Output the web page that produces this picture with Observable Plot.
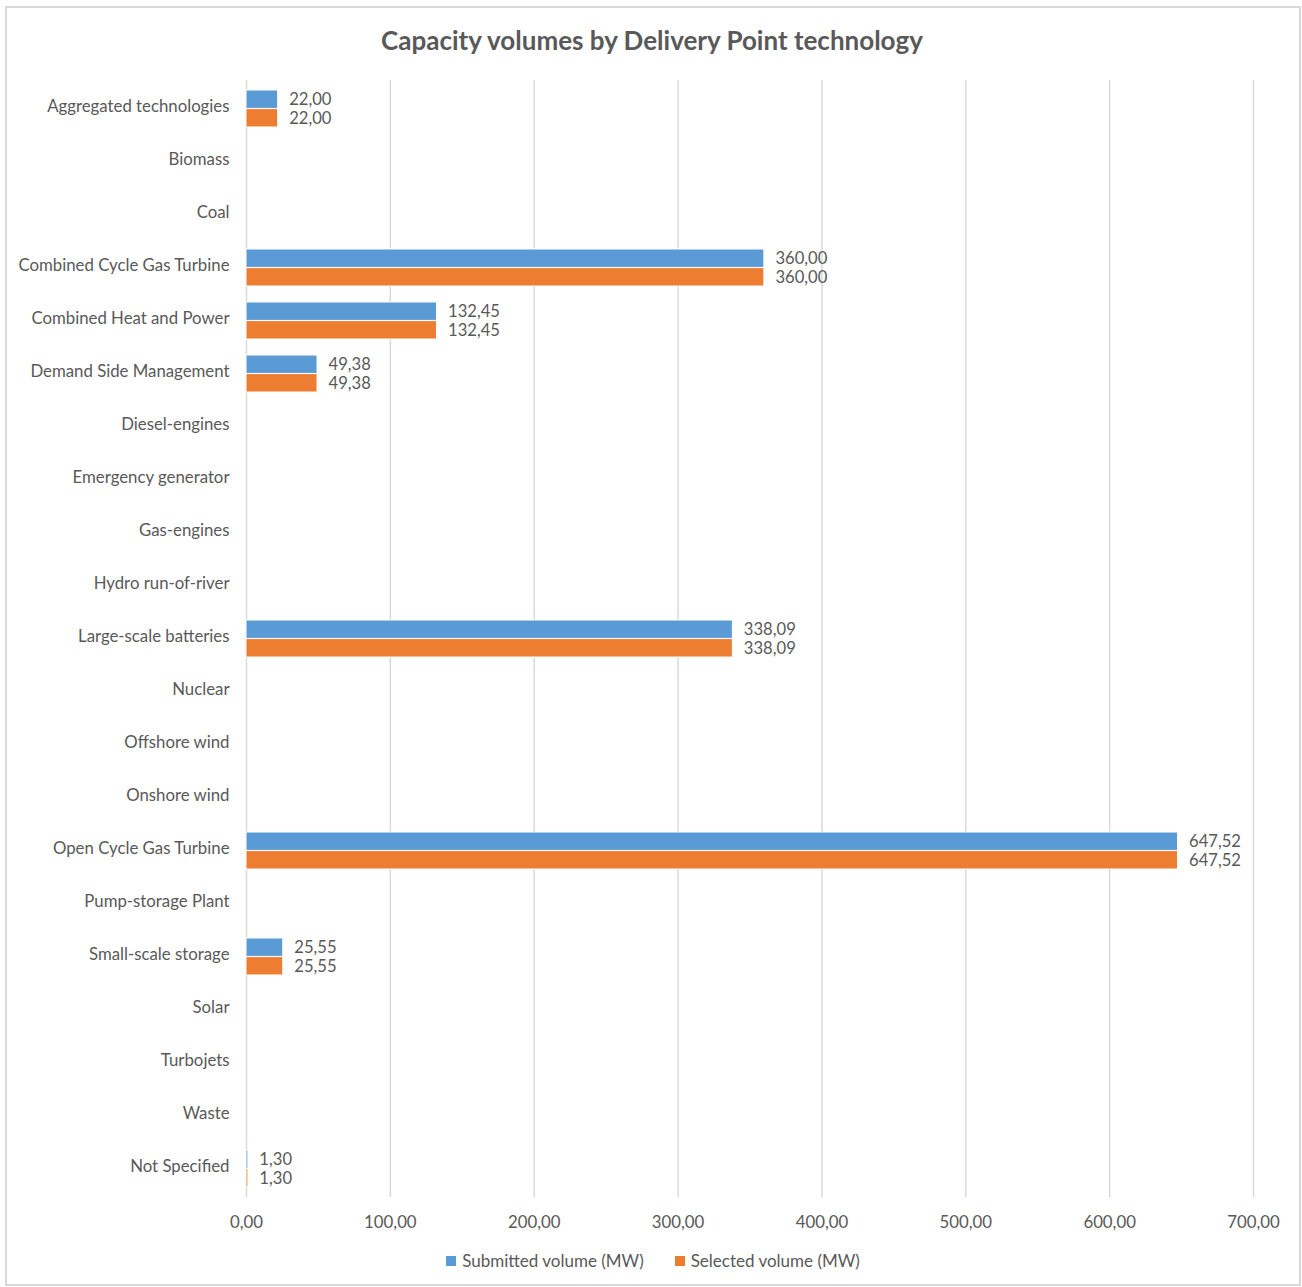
<!DOCTYPE html>
<html>
<head>
<meta charset="utf-8">
<script src="https://cdn.jsdelivr.net/npm/d3@7"></script>
<script src="https://cdn.jsdelivr.net/npm/@observablehq/plot@0.6"></script>
<style>
  html, body { margin: 0; padding: 0; background: #fff; }
  #wrap { position: relative; width: 1302px; height: 1287px; font-family: Lato, "Open Sans", sans-serif; color: #595959; }
  #frame { position: absolute; left: 5px; top: 6px; width: 1292px; height: 1276px; border: 2px solid #d9d9d9; }
  #title { position: absolute; left: 0; top: 23px; width: 1304px; text-align: center; font-size: 26px; font-weight: bold; line-height: 34px; }
  #chart { position: absolute; left: 0; top: 60px; }
  #legend { position: absolute; left: 0; top: 1249px; width: 1306px; display: flex; justify-content: center; gap: 31px; font-size: 17px; line-height: 24px; }
  .item { display: flex; align-items: center; }
  .sw { width: 10px; height: 10px; margin-right: 6px; }
</style>
</head>
<body>
<div id="wrap">
  <div id="frame"></div>
  <div id="title">Capacity volumes by Delivery Point technology</div>
  <div id="chart"></div>
  <div id="legend"></div>
</div>
<script>
const categories = [
  "Aggregated technologies", "Biomass", "Coal", "Combined Cycle Gas Turbine",
  "Combined Heat and Power", "Demand Side Management", "Diesel-engines",
  "Emergency generator", "Gas-engines", "Hydro run-of-river", "Large-scale batteries",
  "Nuclear", "Offshore wind", "Onshore wind", "Open Cycle Gas Turbine",
  "Pump-storage Plant", "Small-scale storage", "Solar", "Turbojets", "Waste", "Not Specified"
];
const submitted = [22.00, null, null, 360.00, 132.45, 49.38, null, null, null, null, 338.09, null, null, null, 647.52, null, 25.55, null, null, null, 1.30];
const selected  = [22.00, null, null, 360.00, 132.45, 49.38, null, null, null, null, 338.09, null, null, null, 647.52, null, 25.55, null, null, null, 1.30];
const seriesNames = ["Submitted volume (MW)", "Selected volume (MW)"];
const seriesColors = ["#5b9bd5", "#ed7d31"];
const xTicks = [0, 100, 200, 300, 400, 500, 600, 700];

const fmt = v => d3.format(".2f")(v).replace(".", ",");
const sub = categories.map((c, i) => ({category: c, value: submitted[i]})).filter(d => d.value != null);
const sel = categories.map((c, i) => ({category: c, value: selected[i]})).filter(d => d.value != null);

const chart = Plot.plot({
  width: 1302,
  height: 1180,
  marginLeft: 246,
  marginRight: 49,
  marginTop: 20,
  marginBottom: 43,
  style: {fontFamily: "Lato, 'Open Sans', sans-serif", fontSize: "16.8px", color: "#595959", background: "transparent", overflow: "visible"},
  x: {domain: [0, 700], ticks: xTicks, tickFormat: fmt, label: null, tickSize: 0, tickPadding: 19},
  y: {domain: categories, paddingInner: 0.3, paddingOuter: 0.15, label: null, tickSize: 0, tickPadding: 17},
  marks: [
    Plot.ruleX(xTicks, {stroke: "#d9d9d9", strokeWidth: 1.5}),
    Plot.barX(sub, {x: "value", y: "category", fill: seriesColors[0], stroke: "white", strokeWidth: 1, insetBottom: 18.6}),
    Plot.barX(sel, {x: "value", y: "category", fill: seriesColors[1], stroke: "white", strokeWidth: 1, insetTop: 18.6}),
    Plot.text(sub, {x: "value", y: "category", text: d => fmt(d.value), dx: 11, dy: -9.3, textAnchor: "start", fill: "#595959", fontSize: 16.6}),
    Plot.text(sel, {x: "value", y: "category", text: d => fmt(d.value), dx: 11, dy: 9.7, textAnchor: "start", fill: "#595959", fontSize: 16.6})
  ]
});
document.getElementById("chart").appendChild(chart);
chart.querySelectorAll("g[aria-label='y-axis tick label'] text, g[aria-label='y-axis'] text").forEach(t => t.setAttribute("dy", "-0.12em"));

const legend = document.getElementById("legend");
seriesNames.forEach((n, i) => {
  const it = document.createElement("div");
  it.className = "item";
  const sw = document.createElement("span");
  sw.className = "sw";
  sw.style.background = seriesColors[i];
  const t = document.createElement("span");
  t.textContent = n;
  it.appendChild(sw); it.appendChild(t);
  legend.appendChild(it);
});
</script>
</body>
</html>
